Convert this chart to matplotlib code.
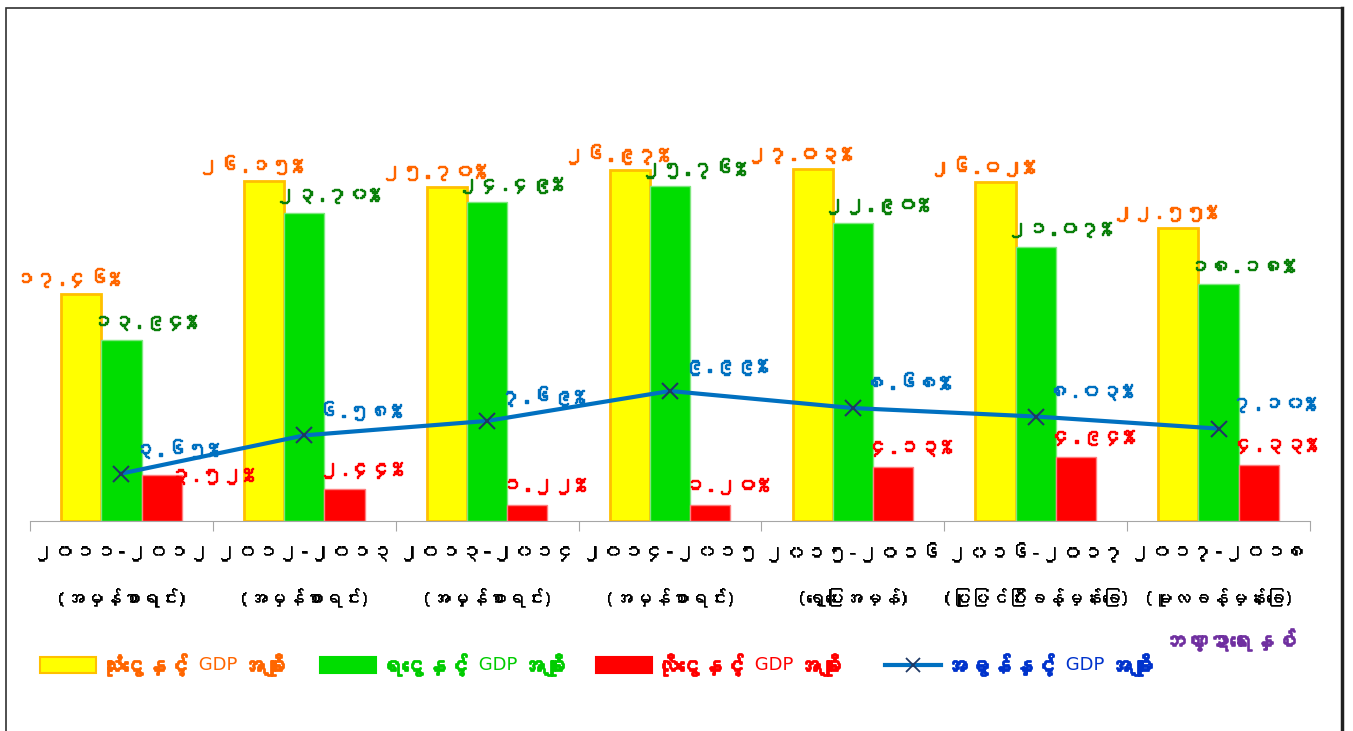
import matplotlib
matplotlib.use('Agg')
import matplotlib.pyplot as plt
import matplotlib.patheffects as pe
from matplotlib import font_manager
from matplotlib.ft2font import FT2Font
from matplotlib.offsetbox import HPacker, TextArea, DrawingArea, AnnotationBbox
from matplotlib.patches import Rectangle
from matplotlib.lines import Line2D
from matplotlib.transforms import blended_transform_factory
import numpy as np

# fiscal years and status notes
years = ['၂၀၁၁-၂၀၁၂', '၂၀၁၂-၂၀၁၃', '၂၀၁၃-၂၀၁၄', '၂၀၁၄-၂၀၁၅',
         '၂၀၁၅-၂၀၁၆', '၂၀၁၆-၂၀၁၇', '၂၀၁၇-၂၀၁၈']
notes = ['(အမှန်စာရင်း)', '(အမှန်စာရင်း)', '(အမှန်စာရင်း)', '(အမှန်စာရင်း)',
         '(ရှေ့ပြေးအမှန်)', '(ပြုပြင်ပြီးခန့်မှန်းခြေ)', '(မူလခန့်မှန်းခြေ)']

# ratios to GDP (%)
spend = [17.46, 26.15, 25.70, 26.97, 27.03, 26.02, 22.55]
revenue = [13.94, 23.70, 24.49, 25.76, 22.90, 21.07, 18.18]
deficit = [3.52, 2.44, 1.22, 1.20, 4.13, 4.94, 4.33]
tax = [3.65, 6.58, 7.69, 9.99, 8.68, 8.03, 7.10]

legend_names = [('သုံးငွေနှင့်', 'အချိုး'), ('ရငွေနှင့်', 'အချိုး'),
                ('လိုငွေနှင့်', 'အချိုး'), ('အခွန်နှင့်', 'အချိုး')]
title_text = 'ဘဏ္ဍာရေးနှစ်'


# look for any installed font that covers Myanmar script
def find_myanmar_font():
    seen = set()
    for f in font_manager.fontManager.ttflist:
        if f.fname in seen:
            continue
        seen.add(f.fname)
        try:
            if 0x1000 in FT2Font(f.fname).get_charmap():
                return f.name
        except Exception:
            pass
    return None

mm = find_myanmar_font()
fam = [mm, 'DejaVu Sans'] if mm else ['DejaVu Sans']
plt.rcParams['font.family'] = fam

MM_DIGITS = str.maketrans('0123456789', '၀၁၂၃၄၅၆၇၈၉')
def mm_pct(v):
    return ('%.2f%%' % v).translate(MM_DIGITS)

def fat(color, lw=1.0):
    # the Myanmar font has no bold face, so thicken it with a stroke
    return [pe.withStroke(linewidth=lw, foreground=color)]

fig = plt.figure(figsize=(13.53, 7.31), dpi=100)
ax = fig.add_axes([30/1353, 210/731, 1280/1353, 501/731])

x = np.arange(len(years))
w = 0.22
ax.bar(x - w, spend, w, color='#FFFF00', edgecolor='#FFC000', linewidth=2)
ax.bar(x, revenue, w, color='#00DD00', edgecolor='#7FE77F', linewidth=1)
ax.bar(x + w, deficit, w, color='#FF0000', edgecolor='#FF7F7F', linewidth=1)
ax.plot(x, tax, color='#0070C0', lw=3, zorder=4)
ax.plot(x, tax, ls='none', marker='x', ms=12, mew=1.5, color='#1F3864', zorder=5)

# value labels
red_nudge = {0: (50, 0)}
for i in range(len(x)):
    ax.annotate(mm_pct(spend[i]), (x[i] - w, spend[i]), xytext=(-14, 6),
                textcoords='offset pixels', ha='center', va='bottom',
                color='#FF6600', fontsize=15, path_effects=fat('#FF6600'))
    ax.annotate(mm_pct(revenue[i]), (x[i], revenue[i]), xytext=(23, 18),
                textcoords='offset pixels', ha='center', va='center',
                color='#0A7F0A', fontsize=15, path_effects=fat('#0A7F0A'))
    ax.annotate(mm_pct(deficit[i]), (x[i] + w, deficit[i]),
                xytext=red_nudge.get(i, (16, 20)),
                textcoords='offset pixels', ha='center', va='center',
                color='#FF0000', fontsize=15, path_effects=fat('#FF0000'))
    ax.annotate(mm_pct(tax[i]), (x[i], tax[i]), xytext=(55, 25),
                textcoords='offset pixels', ha='center', va='center',
                color='#0070C0', fontsize=15, path_effects=fat('#0070C0'))

ax.set_xlim(-0.5, len(years) - 0.5)
ax.set_ylim(0, 38.5)
ax.set_yticks([])
for s in ['top', 'right', 'left']:
    ax.spines[s].set_visible(False)
ax.spines['bottom'].set_color('#A6A6A6')
ax.set_xticks(np.arange(len(years) + 1) - 0.5)
ax.set_xticklabels([])
ax.tick_params(axis='x', direction='out', length=7, color='#A6A6A6')

tr = blended_transform_factory(ax.transData, ax.transAxes)
for i in range(len(x)):
    ax.text(x[i], -0.062, years[i], transform=tr, ha='center', va='center',
            fontsize=15, path_effects=fat('black', 0.4))
    ax.text(x[i], -0.152, notes[i], transform=tr, ha='center', va='center',
            fontsize=13.5, path_effects=fat('black', 0.4))

# legend, built by hand so that "GDP" can be in a smaller normal font
def legend_item(handle, name, color, xpos):
    first, last = name
    bold = dict(color=color, fontsize=16, path_effects=fat(color, 1.3))
    small = dict(color=color, fontsize=13,
                 family=['Liberation Sans Narrow', 'DejaVu Sans'])
    box = HPacker(children=[handle, TextArea(first, textprops=bold),
                            TextArea(' GDP', textprops=small),
                            TextArea(last, textprops=bold)],
                  sep=3, pad=0, align='center')
    ab = AnnotationBbox(box, (xpos, 66), xycoords='figure pixels',
                        box_alignment=(0, 0.5), frameon=False)
    fig.add_artist(ab)

def patch_handle(face, edge):
    da = DrawingArea(40, 12, 0, 0)
    da.add_artist(Rectangle((0, 0), 40, 12, facecolor=face, edgecolor=edge, lw=1.5))
    return da

da = DrawingArea(40, 12, 0, 0)
da.add_artist(Line2D([0, 40], [6, 6], color='#0070C0', lw=3))
da.add_artist(Line2D([20], [6], ls='none', marker='x', ms=10, mew=1.3, color='#1F3864'))

legend_item(patch_handle('#FFFF00', '#FFC000'), legend_names[0], '#FF6600', 40)
legend_item(patch_handle('#00DD00', '#00DD00'), legend_names[1], '#00CC00', 320)
legend_item(patch_handle('#FF0000', '#FF0000'), legend_names[2], '#FF0000', 596)
legend_item(da, legend_names[3], '#0033CC', 885)

fig.text(1163/1353, 1 - 640/731, title_text, color='#7030A0', fontsize=16,
         ha='left', va='center', path_effects=fat('#7030A0', 1.2))

# outer frame
fig.add_artist(Rectangle((6/1353, -0.1), (1342 - 6)/1353, 0.1 + (731 - 8)/731,
                         transform=fig.transFigure, fill=False,
                         edgecolor='#303030', lw=1.2))
fig.add_artist(Line2D([1342/1353, 1342/1353], [0, (731 - 8)/731],
                      transform=fig.transFigure, color='#202020', lw=2.5))

fig.savefig('out.png', dpi=100)
